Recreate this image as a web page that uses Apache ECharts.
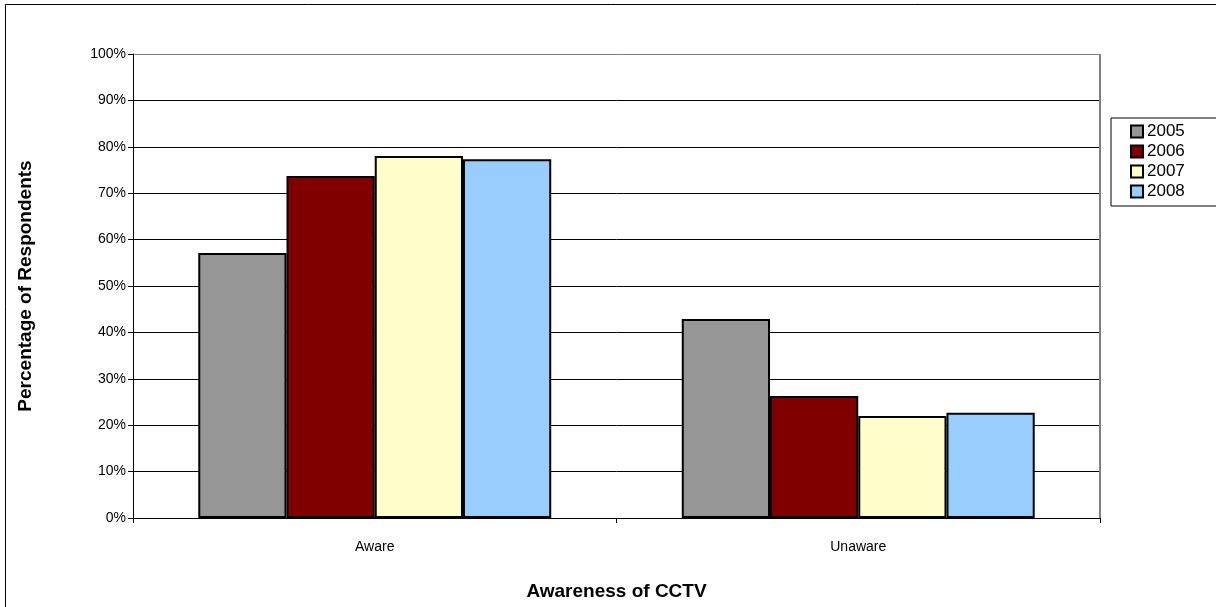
<!DOCTYPE html>
<html>
<head>
<meta charset="utf-8">
<script src="https://cdn.jsdelivr.net/npm/echarts@6/dist/echarts.min.js"></script>
<style>html,body{margin:0;padding:0;background:#fff}#c{width:1216px;height:607px}</style>
</head>
<body>
<div id="c"></div>
<script>
const categories = ['Aware', 'Unaware'];
const years = ['2005', '2006', '2007', '2008'];
const v2005 = [57.1, 42.9];
const v2006 = [73.7, 26.3];
const v2007 = [78.0, 22.0];
const v2008 = [77.3, 22.7];
const colors = ['#969696', '#800000', '#FFFFCC', '#99CCFF'];
const seriesValues = [v2005, v2006, v2007, v2008];

const chart = echarts.init(document.getElementById('c'), null, {renderer: 'canvas'});
const font = 'Liberation Sans, Arial, sans-serif';
const splitColors = [];
for (let i = 0; i < 10; i++) splitColors.push('#000000');
splitColors.push('#808080');

chart.setOption({
  animation: false,
  backgroundColor: '#fff',
  textStyle: {fontFamily: font},
  graphic: [{
    type: 'rect', silent: true,
    shape: {x: 5.5, y: 4.5, width: 1300, height: 700},
    style: {fill: 'none', stroke: '#000', lineWidth: 1}
  }, {
    type: 'line', silent: true, z: 10,
    shape: {x1: 1100, y1: 54, x2: 1100, y2: 518},
    style: {stroke: '#808080', lineWidth: 2}
  }],
  grid: {left: 133, right: 116, top: 54, bottom: 89, containLabel: false},
  legend: {
    orient: 'vertical', left: 1111, top: 118,
    padding: [5, 40, 6, 19],
    itemGap: 3, itemWidth: 12, itemHeight: 12,
    borderColor: '#000', borderWidth: 1,
    icon: 'rect',
    textStyle: {fontFamily: font, fontSize: 17, color: '#000', padding: [0, 0, 0, -1]},
    data: years
  },
  xAxis: {
    type: 'category', data: categories,
    name: 'Awareness of CCTV', nameLocation: 'middle', nameGap: 64,
    nameTextStyle: {fontFamily: font, fontSize: 19, fontWeight: 'bold', color: '#000'},
    axisLine: {lineStyle: {color: '#000', width: 1}},
    axisTick: {show: true, length: 5, lineStyle: {color: '#000'}},
    axisLabel: {fontFamily: font, fontSize: 14, color: '#000', margin: 22}
  },
  yAxis: {
    type: 'value', min: 0, max: 100, interval: 10,
    name: 'Percentage of Respondents', nameLocation: 'middle', nameGap: 98,
    nameTextStyle: {fontFamily: font, fontSize: 19, fontWeight: 'bold', color: '#000'},
    axisLine: {show: true, lineStyle: {color: '#000', width: 1}},
    axisTick: {show: true, length: 5, lineStyle: {color: '#000'}},
    axisLabel: {fontFamily: font, fontSize: 14, color: '#000', margin: 7, formatter: '{value}%'},
    splitLine: {show: true, lineStyle: {color: splitColors, width: 1}}
  },
  series: years.map((y, i) => ({
    name: y, type: 'bar', data: seriesValues[i],
    barGap: '0%', barCategoryGap: '27%',
    itemStyle: {color: colors[i], borderColor: '#000', borderWidth: 2}
  }))
});
</script>
</body>
</html>
